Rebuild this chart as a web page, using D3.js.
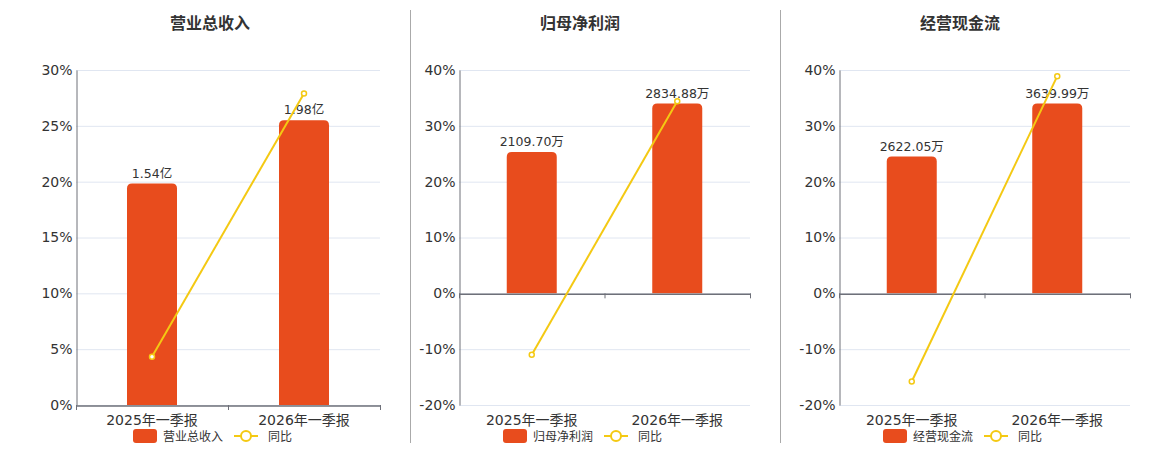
<!DOCTYPE html>
<html>
<head>
<meta charset="utf-8">
<script src="https://cdn.jsdelivr.net/npm/d3@7"></script>
<style>
  body { margin: 0; background: #fff; }
  svg { display: block; font-family: "DejaVu Sans", "Noto Sans CJK SC", sans-serif; }
</style>
</head>
<body>
<svg id="chart" width="1160" height="450"></svg>
<script>
// data
const categories = ['2025年一季报', '2026年一季报'];
const titles = ['营业总收入', '归母净利润', '经营现金流'];
const barValues = [
  [1.54, 1.98],          // 亿
  [2109.70, 2834.88],    // 万
  [2622.05, 3639.99]     // 万
];
const barLabels = [
  ['1.54亿', '1.98亿'],
  ['2109.70万', '2834.88万'],
  ['2622.05万', '3639.99万']
];
const yoyValues = [
  [4.33, 27.9],
  [-11.0, 34.4],
  [-15.8, 38.9]
];
const yDomains = [[0, 30], [-20, 40], [-20, 40]];
const yTicks = [
  [0, 5, 10, 15, 20, 25, 30],
  [-20, -10, 0, 10, 20, 30, 40],
  [-20, -10, 0, 10, 20, 30, 40]
];

// layout of the three panels
const panels = [
  { x0: 76, x1: 380, center: 210 },
  { x0: 459, x1: 750, center: 580 },
  { x0: 839, x1: 1130, center: 960 }
];
const separators = [410, 780];
const plotTop = 70, plotBottom = 405;
const barColor = '#e84c1d';
const lineColor = '#f4c913';
const textColor = '#333';

const svg = d3.select('#chart');

separators.forEach(x => {
  svg.append('line')
    .attr('x1', x + 0.5).attr('x2', x + 0.5)
    .attr('y1', 10).attr('y2', 443)
    .attr('stroke', '#aaa').attr('stroke-width', 1);
});

function topRoundedBar(x, y, w, h, r) {
  r = Math.min(r, h, w / 2);
  return `M${x},${y + h} L${x},${y + r} Q${x},${y} ${x + r},${y} ` +
    `L${x + w - r},${y} Q${x + w},${y} ${x + w},${y + r} L${x + w},${y + h} Z`;
}

panels.forEach((p, i) => {
  const g = svg.append('g');

  const x = d3.scaleBand().domain(categories).range([p.x0, p.x1]);
  const y = d3.scaleLinear().domain(yDomains[i]).range([plotBottom, plotTop]);
  const zeroY = y(0);
  // bars live on a hidden axis that shares the zero line
  const yBar = d3.scaleLinear()
    .domain([0, d3.max(barValues[i]) / 0.85])
    .range([zeroY, plotTop]);

  // title
  g.append('text')
    .attr('x', p.center).attr('y', 29)
    .attr('text-anchor', 'middle')
    .attr('font-size', 16).attr('font-weight', 'bold')
    .attr('fill', textColor)
    .text(titles[i]);

  // grid lines
  g.selectAll('.grid')
    .data(yTicks[i])
    .join('line')
    .attr('x1', p.x0).attr('x2', p.x1)
    .attr('y1', d => y(d) + 0.5).attr('y2', d => y(d) + 0.5)
    .attr('stroke', '#e0e6f1');

  // y axis
  const yAxis = d3.axisLeft(y).tickValues(yTicks[i]).tickSize(0).tickPadding(4)
    .tickFormat(d => d + '%');
  const ya = g.append('g').attr('transform', `translate(${p.x0 + 0.5},0)`).call(yAxis);
  ya.select('.domain').attr('stroke', '#6e7079');
  ya.selectAll('text').attr('font-size', 14).attr('fill', textColor)
    .attr('font-family', '"DejaVu Sans", sans-serif');

  // bars
  const bw = 50;
  g.selectAll('.bar')
    .data(barValues[i])
    .join('path')
    .attr('d', (d, j) => {
      const cx = x(categories[j]) + x.bandwidth() / 2;
      return topRoundedBar(cx - bw / 2, yBar(d), bw, zeroY - yBar(d), 5);
    })
    .attr('fill', barColor);

  // bar labels
  g.selectAll('.blabel')
    .data(barValues[i])
    .join('text')
    .attr('x', (d, j) => x(categories[j]) + x.bandwidth() / 2)
    .attr('y', d => yBar(d) - 6)
    .attr('text-anchor', 'middle')
    .attr('font-size', 12.5).attr('fill', textColor)
    .text((d, j) => barLabels[i][j]);

  // x axis on the zero line
  const xa = g.append('g').attr('transform', `translate(0,${zeroY + 0.5})`)
    .call(d3.axisBottom(x).tickSize(0).tickFormat(''));
  xa.select('.domain').attr('stroke', '#6e7079').attr('stroke-width', 1.5);
  const bounds = [p.x0, ...categories.map(c => x(c) + x.bandwidth())];
  g.selectAll('.xtick')
    .data(bounds)
    .join('line')
    .attr('x1', d => d + 0.5).attr('x2', d => d + 0.5)
    .attr('y1', zeroY).attr('y2', zeroY + 5)
    .attr('stroke', '#6e7079');

  // category labels below plot
  g.selectAll('.xlabel')
    .data(categories)
    .join('text')
    .attr('x', d => x(d) + x.bandwidth() / 2)
    .attr('y', plotBottom + 20)
    .attr('text-anchor', 'middle')
    .attr('font-size', 14).attr('fill', textColor)
    .text(d => d);

  // yoy line
  const line = d3.line()
    .x((d, j) => x(categories[j]) + x.bandwidth() / 2)
    .y(d => y(d));
  g.append('path')
    .datum(yoyValues[i])
    .attr('d', line)
    .attr('fill', 'none')
    .attr('stroke', lineColor).attr('stroke-width', 2);
  g.selectAll('.pt')
    .data(yoyValues[i])
    .join('circle')
    .attr('cx', (d, j) => x(categories[j]) + x.bandwidth() / 2)
    .attr('cy', d => y(d))
    .attr('r', 2.5)
    .attr('fill', '#fff')
    .attr('stroke', lineColor).attr('stroke-width', 1.5);

  // legend
  const lg = g.append('g').attr('transform', `translate(${p.center - 77},436)`);
  lg.append('rect')
    .attr('x', 0).attr('y', -7).attr('width', 24).attr('height', 14).attr('rx', 3)
    .attr('fill', barColor);
  lg.append('text')
    .attr('x', 30).attr('y', 4.5)
    .attr('font-size', 12).attr('fill', textColor)
    .text(titles[i]);
  lg.append('line')
    .attr('x1', 101).attr('x2', 125).attr('y1', 0).attr('y2', 0)
    .attr('stroke', lineColor).attr('stroke-width', 2);
  lg.append('circle')
    .attr('cx', 113).attr('cy', 0).attr('r', 5)
    .attr('fill', '#fff').attr('stroke', lineColor).attr('stroke-width', 2);
  lg.append('text')
    .attr('x', 135).attr('y', 4.5)
    .attr('font-size', 12).attr('fill', textColor)
    .text('同比');
});
</script>
</body>
</html>
